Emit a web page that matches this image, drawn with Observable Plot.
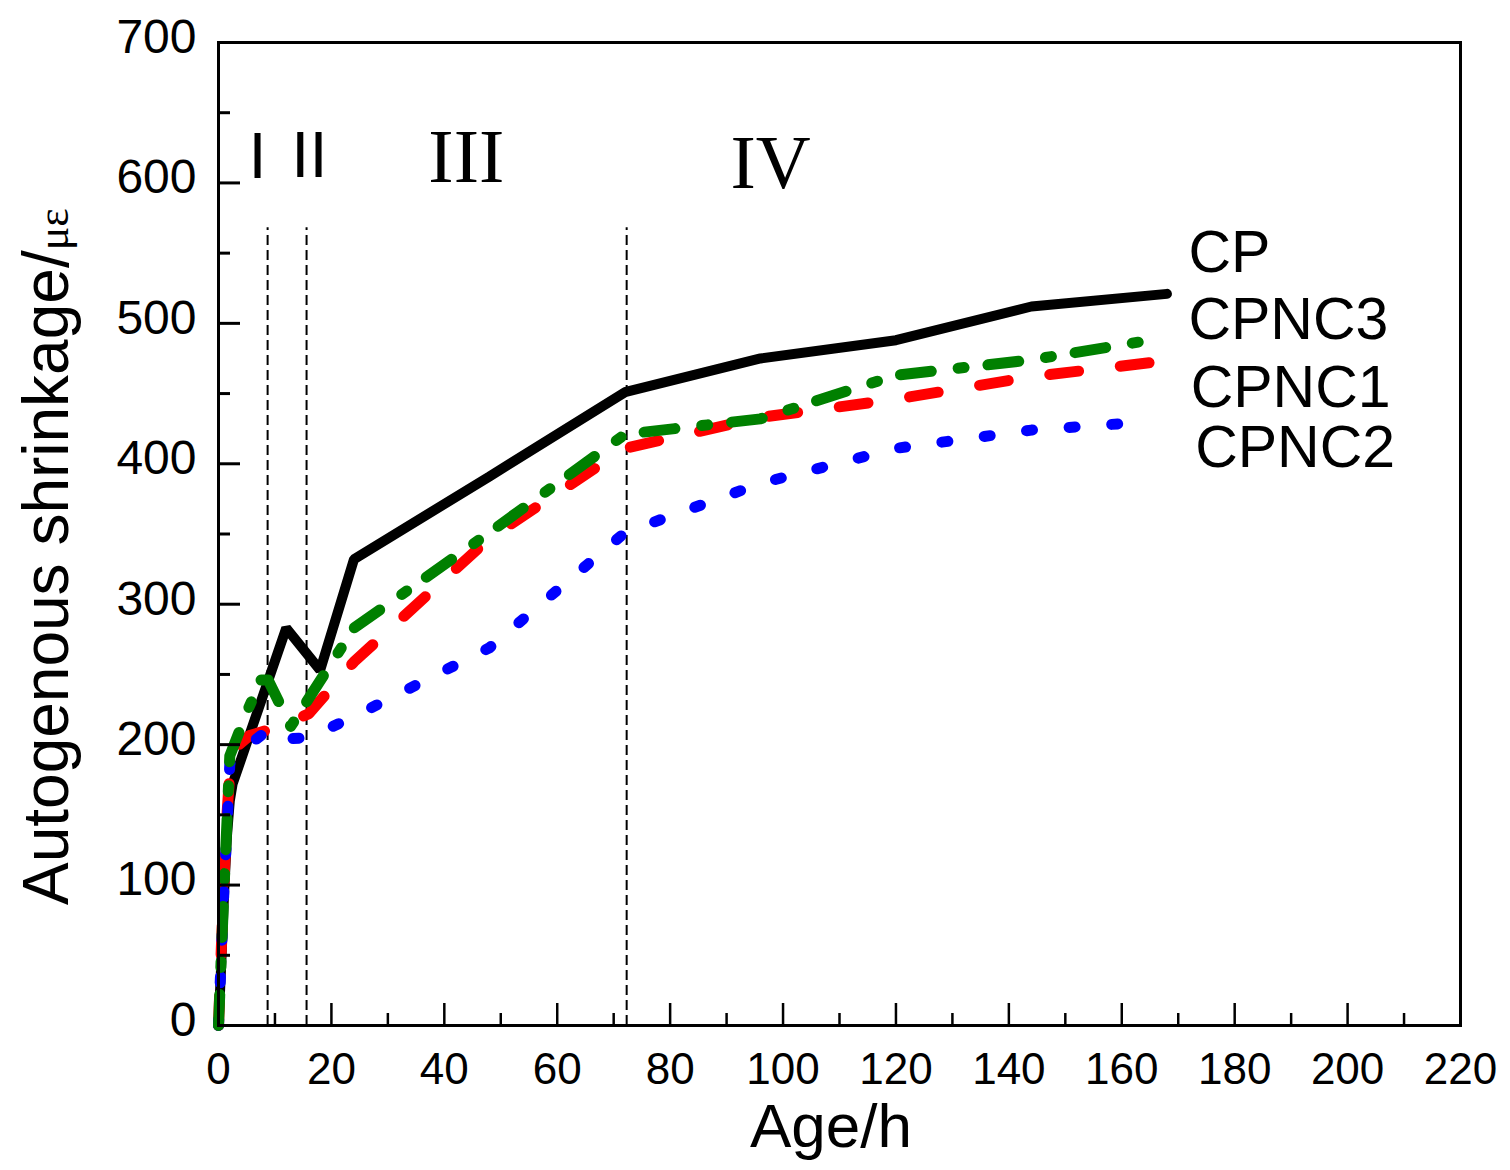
<!DOCTYPE html>
<html>
<head>
<meta charset="utf-8">
<script src="https://cdn.jsdelivr.net/npm/d3@7"></script>
<script src="https://cdn.jsdelivr.net/npm/@observablehq/plot@0.6"></script>
<style>
  body { margin: 0; background: #fff; }
  #chart { width: 1510px; height: 1170px; }
</style>
</head>
<body>
<div id="chart"></div>
<script>
// ---- data ----
const hoursCP   = [0, 0.5, 1, 1.5, 2, 2.5, 12, 18, 24, 48, 72, 96, 120, 144, 168];
const valuesCP  = [0, 45, 95, 135, 160, 172, 283, 253, 332, 391, 451, 475, 488, 512, 521];

const hoursNC3  = [0, 0.5, 1, 1.5, 2, 5, 7.5, 8.8, 12.8, 24, 48, 72, 96, 120, 144, 165];
const valuesNC3 = [0, 50, 100, 145, 192, 223, 246, 246, 213, 283, 351, 421, 432, 463, 474, 488];

const hoursNC1  = [0, 0.5, 1, 1.5, 2, 3, 5.5, 11, 16, 24, 48, 72, 96, 120, 144, 165];
const valuesNC1 = [0, 55, 105, 150, 180, 198, 206.5, 213, 222, 259, 347, 411, 433, 446, 462, 472];

const hoursNC2  = [0, 0.5, 1, 1.5, 2, 2.5, 9, 12, 16, 24, 48, 72, 96, 120, 144, 165];
const valuesNC2 = [0, 50, 100, 140, 186, 191, 211, 204, 205, 220, 269, 351, 386, 411, 424, 430];

const seriesNames = ["CP", "CPNC3", "CPNC1", "CPNC2"];
const legendX = [171.8, 171.8, 172.2, 173.0];
const legendY = [550, 502, 454, 411];

const phaseLines = [8.7, 15.6, 72.3];
const phaseTop = 568;
const phaseLabels = ["I", "II", "III", "IV"];
const phaseLabelX = [6.9, 16.1, 43.9, 97.8];
const phaseLabelY = [618, 619, 618, 614];

const xMajor = [0, 20, 40, 60, 80, 100, 120, 140, 160, 180, 200, 220];
const xMinor = d3.range(10, 220, 20);
const yMajor = [0, 100, 200, 300, 400, 500, 600, 700];
const yMinor = d3.range(50, 700, 100);

// ---- build tables ----
const toRows = (h, v) => h.map((x, i) => ({x, y: v[i]}));
const cp = toRows(hoursCP, valuesCP);
const nc3 = toRows(hoursNC3, valuesNC3);
const nc1 = toRows(hoursNC1, valuesNC1);
const nc2 = toRows(hoursNC2, valuesNC2);
const legendRows = seriesNames.map((t, i) => ({t, x: legendX[i], y: legendY[i]}));
const romanRows = phaseLabels.map((t, i) => ({t, x: phaseLabelX[i], y: phaseLabelY[i]}));

const W = 1510, H = 1170;
const sans = "'Liberation Sans', Arial, Helvetica, sans-serif";
const serif = "'Liberation Serif', 'Times New Roman', serif";

const svg = Plot.plot({
  width: W, height: H,
  marginLeft: 218, marginRight: 50, marginTop: 42, marginBottom: 145,
  x: {domain: [0, 220]},
  y: {domain: [0, 700]},
  style: {fontFamily: sans, background: "#fff", color: "#000", overflow: "visible"},
  marks: [
    Plot.ruleX(phaseLines, {y1: 0, y2: phaseTop, stroke: "#000", strokeWidth: 2, strokeDasharray: "10,5"}),
    Plot.line(cp, {x: "x", y: "y", stroke: "#000", strokeWidth: 10, strokeLinejoin: "miter", strokeLinecap: "round"}),
    Plot.line(nc1, {x: "x", y: "y", stroke: "#ff0000", strokeWidth: 11, strokeDasharray: "29,42", strokeLinecap: "round", strokeLinejoin: "round"}),
    Plot.line(nc2, {x: "x", y: "y", stroke: "#0000ff", strokeWidth: 11, strokeDasharray: "6,36.7", strokeLinecap: "round", strokeLinejoin: "round"}),
    Plot.line(nc3, {x: "x", y: "y", stroke: "#008000", strokeWidth: 11, strokeDasharray: "31,27,6,24", strokeLinecap: "round", strokeLinejoin: "round"}),
    Plot.frame({stroke: "#000", strokeWidth: 3}),
    Plot.ruleY(yMajor, {x1: 0, x2: 0, insetRight: -22, stroke: "#000", strokeWidth: 3}),
    Plot.ruleY(yMinor, {x1: 0, x2: 0, insetRight: -12, stroke: "#000", strokeWidth: 3}),
    Plot.ruleX(xMajor.slice(1, -1), {y1: 0, y2: 0, insetBottom: 22, stroke: "#000", strokeWidth: 2.5}),
    Plot.ruleX(xMinor, {y1: 0, y2: 0, insetBottom: 12, stroke: "#000", strokeWidth: 2.5}),
    Plot.axisY(yMajor, {tickSize: 0, tickPadding: 22, fontSize: 48, dy: -5, label: null}),
    Plot.axisX(xMajor, {tickSize: 0, tickPadding: 27, fontSize: 44, label: null}),
    Plot.text(legendRows, {x: "x", y: "y", text: "t", textAnchor: "start", lineAnchor: "middle", fontSize: 59, fill: "#000"}),
    Plot.text(romanRows.slice(0, 2), {x: "x", y: "y", text: "t", lineAnchor: "middle", fontSize: 65, fill: "#000"}),
    Plot.text(romanRows.slice(2), {x: "x", y: "y", text: "t", lineAnchor: "middle", fontSize: 76, fontFamily: serif, fill: "#000"})
  ]
});

const s = d3.select(svg);
s.append("text")
  .attr("x", 831).attr("y", 1147)
  .attr("text-anchor", "middle")
  .attr("font-family", sans).attr("font-size", 62).attr("fill", "#000")
  .text("Age/h");

const yt = s.append("text")
  .attr("transform", "translate(68,905) rotate(-90)")
  .attr("text-anchor", "start")
  .attr("font-family", sans).attr("font-size", 64).attr("fill", "#000");
yt.append("tspan").text("Autogenous shrinkage/");
yt.append("tspan").attr("font-family", serif).attr("font-size", 44).text("με");

document.getElementById("chart").appendChild(svg);
</script>
</body>
</html>
